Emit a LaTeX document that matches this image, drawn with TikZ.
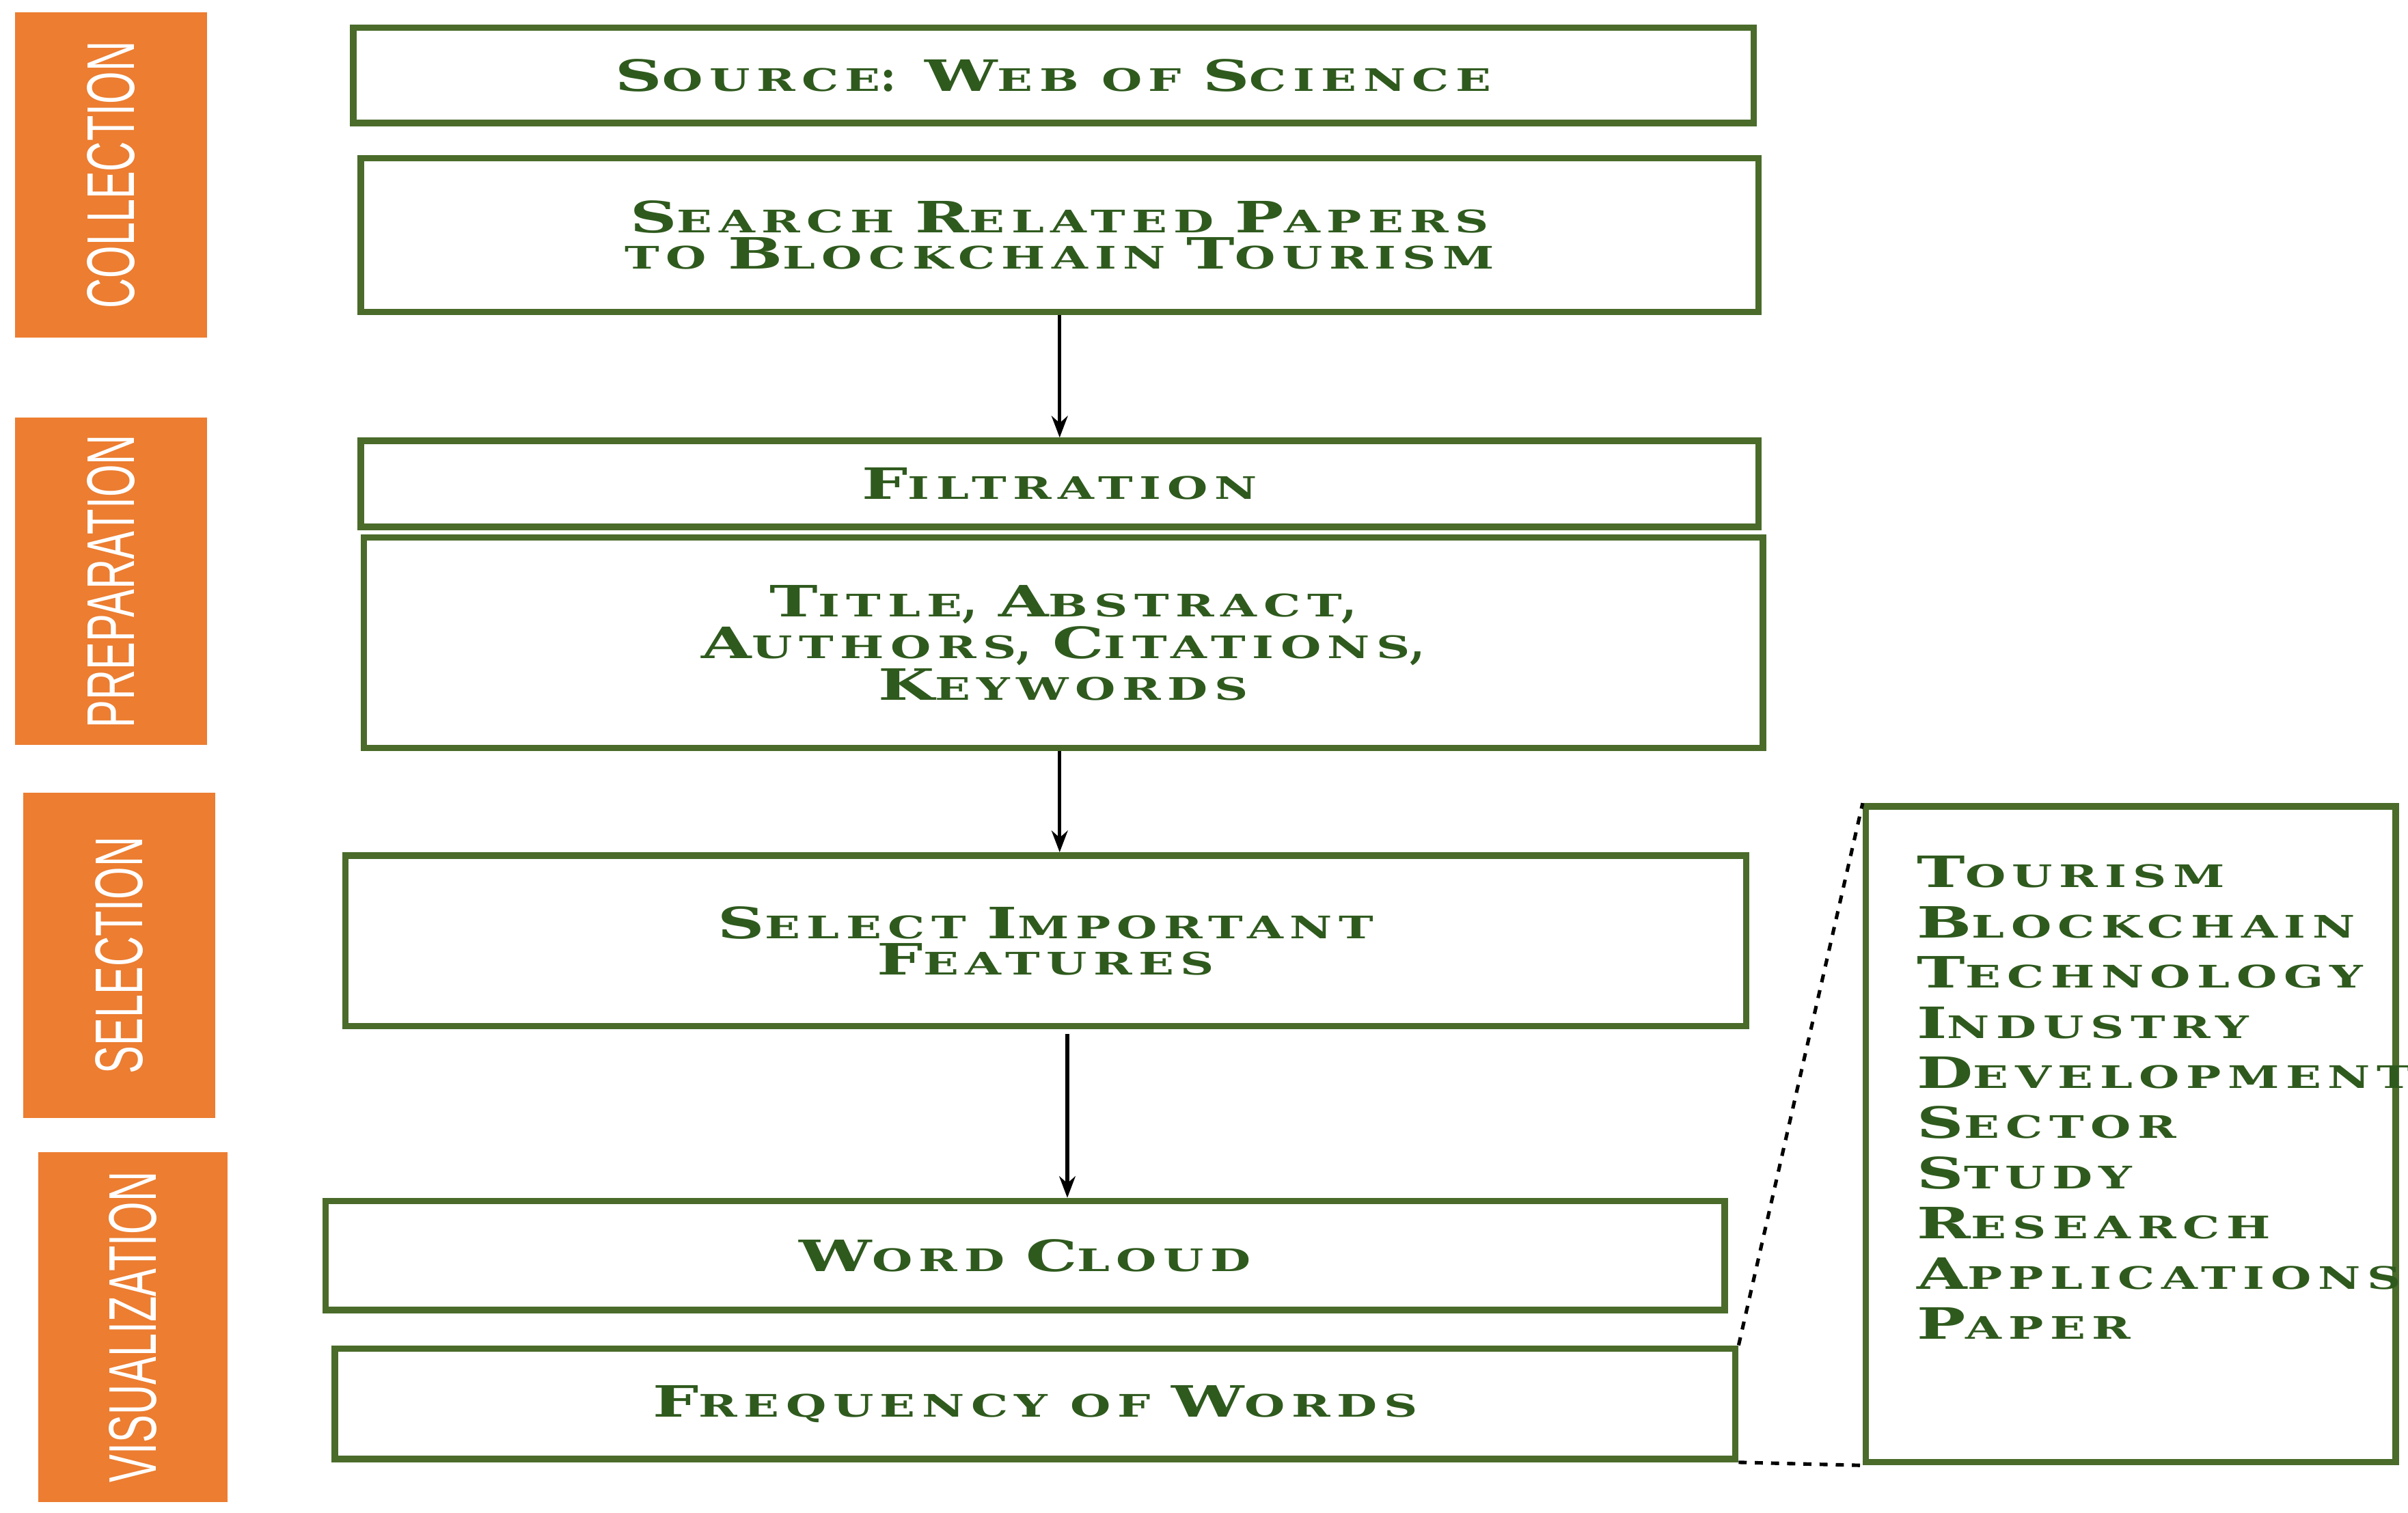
\documentclass[tikz,border=0pt]{standalone}
\usepackage{fontspec}
\usetikzlibrary{arrows.meta}
\setmainfont{DejaVu Serif}[LetterSpace=14]
\newfontfamily\labf{Liberation Sans}
\definecolor{grn}{HTML}{4A6B2A}
\definecolor{tgrn}{HTML}{2F5A1E}
\definecolor{org}{HTML}{EC7D31}
\newcommand\bigf{\fontsize{16}{18}\selectfont}
\newcommand\smf{\fontsize{11.5}{18}\selectfont}
\newcommand\sk[2]{\scalebox{1.5}[1]{{\bigf #1}{\smf #2}}}
\begin{document}
\begin{tikzpicture}[x=0.02cm,y=-0.02cm,
 box/.style={draw=grn,line width=2.4pt,inner sep=0,align=center,font=\bfseries\bigf\linespread{0.75}\selectfont,text=tgrn},
 arr/.style={-{Stealth[length=8pt,width=6pt]},line width=1.3pt}]
\useasboundingbox (0,0) rectangle (1568,985);
\newcommand\bx[6]{\node[box,minimum width={(#3-#2)*0.02cm},minimum height={(#5-#4)*0.02cm}] (#1) at ({(#2+#3)/2},{(#4+#5)/2}) {#6};}
\newcommand\lb[6]{\fill[org] (#2,#4) rectangle (#3,#5); \node[text=white,rotate=90,font=\labf\fontsize{25}{25}\selectfont] (#1) at ({(#2+#3)/2},{(#4+#5)/2}) {\scalebox{0.62}[1]{#6}};}
\lb{l1}{10}{135}{8}{220}{COLLECTION}
\lb{l2}{10}{135}{272}{485}{PREPARATION}
\lb{l3}{15}{140}{516}{728}{SELECTION}
\lb{l4}{25}{148}{750}{978}{VISUALIZATION}
\bx{b1}{230}{1142}{18}{80}{\sk{S}{OURCE}: \sk{W}{EB OF} \sk{S}{CIENCE}}
\bx{b2}{235}{1145}{103}{203}{\sk{S}{EARCH} \sk{R}{ELATED} \sk{P}{APERS}\\ \sk{}{TO} \sk{B}{LOCKCHAIN} \sk{T}{OURISM}}
\bx{b3}{235}{1145}{287}{343}{\sk{F}{ILTRATION}}
\bx{b4}{237}{1148}{350}{487}{\sk{T}{ITLE}, \sk{A}{BSTRACT},\\ \sk{A}{UTHORS}, \sk{C}{ITATIONS},\\ \sk{K}{EYWORDS}}
\bx{b5}{225}{1137}{557}{668}{\sk{S}{ELECT} \sk{I}{MPORTANT}\\ \sk{F}{EATURES}}
\bx{b6}{212}{1123}{782}{853}{\sk{W}{ORD} \sk{C}{LOUD}}
\bx{b7}{218}{1130}{878}{950}{\sk{F}{REQUENCY OF} \sk{W}{ORDS}}
\node[box,minimum width={345*0.02cm},minimum height={427*0.02cm}] (r) at (1387.5,738.5) {};
\node[text=tgrn,font=\bfseries\linespread{1.55}\selectfont,align=left,anchor=north west,inner sep=0] (rt) at (1248,557) {%
\sk{T}{OURISM}\\ \sk{B}{LOCKCHAIN}\\ \sk{T}{ECHNOLOGY}\\ \sk{I}{NDUSTRY}\\ \sk{D}{EVELOPMENT}\\ \sk{S}{ECTOR}\\ \sk{S}{TUDY}\\ \sk{R}{ESEARCH}\\ \sk{A}{PPLICATIONS}\\ \sk{P}{APER}};
\draw[arr] (b2.south -| 690,0) -- (b3.north -| 690,0);
\draw[arr] (b4.south -| 690,0) -- (b5.north -| 690,0);
\draw[arr] (695,673) -- (b6.north -| 695,0);
\draw[dashed,line width=1.3pt] (b7.north east) -- (r.north west);
\draw[dashed,line width=1.3pt] (b7.south east) -- (r.south west);
\end{tikzpicture}
\end{document}
